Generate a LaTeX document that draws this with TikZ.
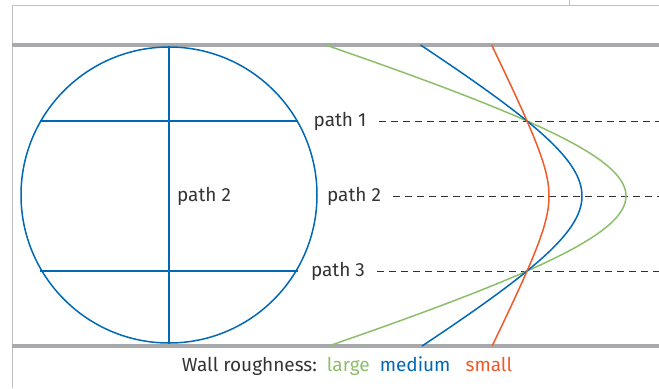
\documentclass[tikz,border=0pt]{standalone}
\usepackage{fontspec}
\setmainfont{Fira Sans}
\usepackage{tikz}
\usetikzlibrary{positioning}
\usepackage{xcolor}
\definecolor{lgreen}{HTML}{8DBE6A}
\definecolor{mblue}{HTML}{0068B4}
\definecolor{sred}{HTML}{F05A28}
\definecolor{wallgray}{HTML}{A7A9AC}
\definecolor{txtgray}{HTML}{333333}

\begin{document}
\begin{tikzpicture}[
  x=0.5pt, y=-0.5pt,
  frame/.style={draw=black!25, line width=0.5pt},
  wall/.style={draw=wallgray, line width=1.6pt},
  pipe/.style={draw=mblue, line width=0.75pt},
  guide/.style={draw=txtgray, line width=0.5pt, dash pattern=on 3.5pt off 2.5pt},
  lbl/.style={font=\fontsize{9.5}{11}\selectfont, text=txtgray, inner sep=1pt},
  curve/.style={line width=0.75pt, samples=90, domain=45:346, variable=\t}
]
\useasboundingbox (0,0) rectangle (659,388);
% frame and walls
\draw[frame] (12,388) -- (12,5) -- (659,5);
\draw[frame] (569,0) -- (569,5);
\draw[wall] (12,45) -- (659,45);
\draw[wall] (12,346) -- (659,346);
% pipe cross section
\node[circle, pipe, minimum size=148pt, inner sep=0pt] (pipe) at (169,195) {};
\draw[pipe] (pipe.north) -- (pipe.south);
\draw[pipe] (40,121) coordinate (c1w) -- (298,121) coordinate (c1e);
\draw[pipe] (40,271) coordinate (c3w) -- (298,271) coordinate (c3e);
\node[lbl] (inner) at (204,196) {path 2};
% paths through the wall region
\node[lbl] (p1) at (340,121) {path 1};
\node[lbl] (p2) at (354,196) {path 2};
\node[lbl] (p3) at (338,271) {path 3};
\coordinate (e1) at (659,121);
\coordinate (e2) at (659,196);
\coordinate (e3) at (659,271);
\draw[guide] ([xshift=5pt]p1.east) -- (e1);
\draw[guide] ([xshift=5pt]p2.east) -- (e2);
\draw[guide] ([xshift=5pt]p3.east) -- (e3);
% roughness curves
\draw[curve, lgreen] plot ({626-250*(sqrt(1+((\t-196)/77)^2)-1)}, \t);
\draw[curve, mblue] plot ({582-112.5*(sqrt(1+((\t-196)/68)^2)-1)}, \t);
\draw[curve, sred] plot ({549-21*(sqrt(1+((\t-196)/42)^2)-1)}, \t);
% legend
\node[lbl] (legend) at (347,366) {Wall roughness:\ \ \textcolor{lgreen}{large}\ \ \textcolor{mblue}{medium}\ \ \ \textcolor{sred}{small}};
\end{tikzpicture}
\end{document}
